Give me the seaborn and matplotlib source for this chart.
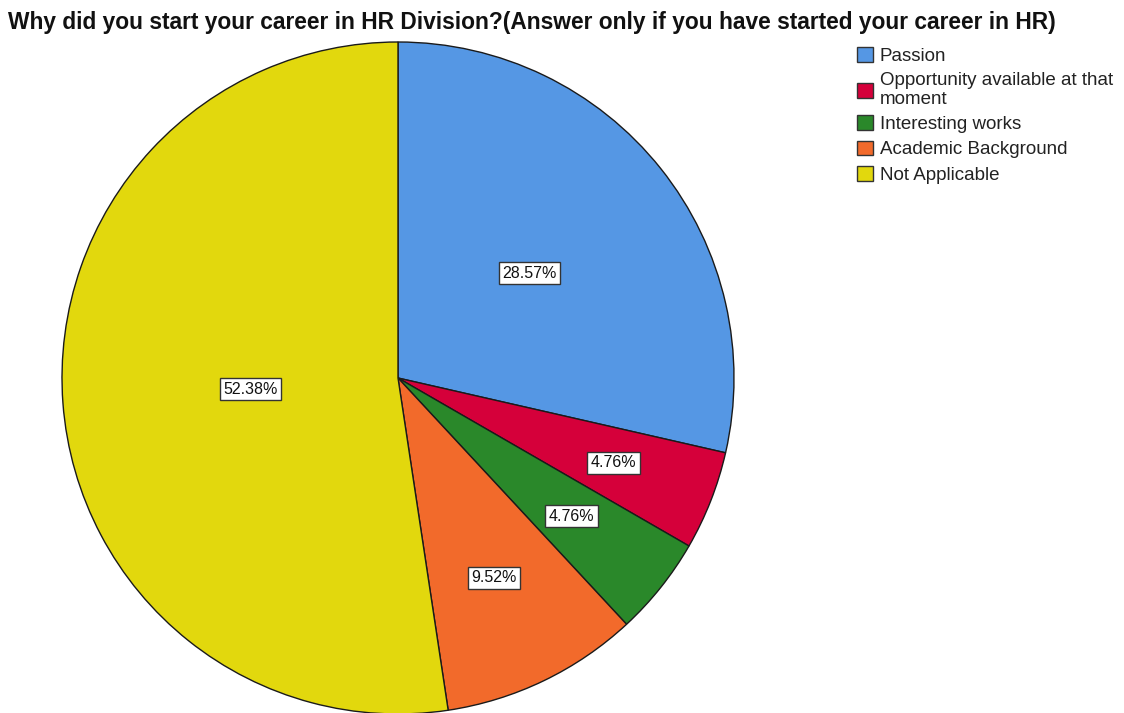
import numpy as np
import matplotlib
matplotlib.use("Agg")
import matplotlib.pyplot as plt
import seaborn as sns
from matplotlib.patches import Patch

categories = ["Passion", "Opportunity available at that\nmoment", "Interesting works",
              "Academic Background", "Not Applicable"]
percentages = [28.57, 4.76, 4.76, 9.52, 52.38]
colors = ["#5597E4", "#D5003A", "#2A882A", "#F26A2B", "#E2D80D"]
# radial position of each percentage label, as a fraction of the radius
label_radius = [0.50, 0.69, 0.66, 0.66, 0.44]

sns.set_theme(style="white")
plt.rcParams["font.family"] = ["Liberation Sans", "DejaVu Sans"]

W, H = 1124, 713
fig = plt.figure(figsize=(W / 100, H / 100), dpi=100)

cx, cy, r = 398, 378, 336
ax = fig.add_axes([(cx - r) / W, (H - cy - r) / H, 2 * r / W, 2 * r / H])

wedges, _ = ax.pie(percentages, colors=colors, startangle=90, counterclock=False,
                   radius=1, wedgeprops=dict(edgecolor="#1a1a1a", linewidth=1.0))
ax.set_xlim(-1, 1)
ax.set_ylim(-1, 1)
ax.axis("off")
for w in wedges:
    w.set_clip_on(False)

for w, p, lr in zip(wedges, percentages, label_radius):
    ang = np.deg2rad((w.theta1 + w.theta2) / 2)
    ax.text(lr * np.cos(ang), lr * np.sin(ang), f"{p:.2f}%", ha="center", va="center",
            fontsize=11.5, color="#111111",
            bbox=dict(boxstyle="square,pad=0.22", facecolor="white",
                      edgecolor="#333333", linewidth=1.0))

fig.text(8 / W, 1 - 22 / H, "Why did you start your career in HR Division?(Answer only if you have started your career in HR)",
         ha="left", va="center", fontsize=16.4, fontweight="bold", color="#111111")

handles = [Patch(facecolor=c, edgecolor="#333333", linewidth=1.0) for c in colors]
leg = fig.legend(handles, categories, loc="upper left", bbox_to_anchor=(857 / W, 1 - 47 / H),
                 frameon=False, fontsize=13.5, handlelength=0.85, handleheight=0.85,
                 handletextpad=0.35, labelspacing=0.38, borderpad=0, borderaxespad=0,
                 labelcolor="#222222")
for t in leg.get_texts():
    t.set_linespacing(1.17)

fig.savefig("out.png", dpi=100, facecolor="white")
